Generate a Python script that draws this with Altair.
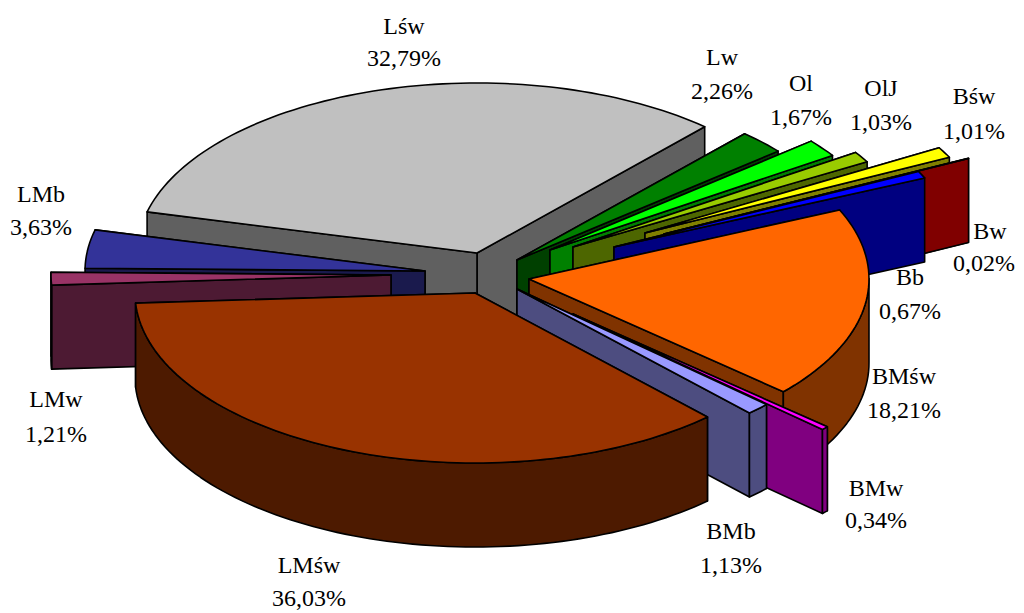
import math
import altair as alt
import pandas as pd

# --- values, clockwise from the back of the pie
names = ["Lśw", "Lw", "Ol", "OlJ", "Bśw", "Bw", "Bb", "BMśw", "BMw", "BMb", "LMśw", "LMw", "LMb"]
shares = [32.79, 2.26, 1.67, 1.03, 1.01, 0.02, 0.67, 18.21, 0.34, 1.13, 36.03, 1.21, 3.63]
share_labels = ["32,79%", "2,26%", "1,67%", "1,03%", "1,01%", "0,02%", "0,67%", "18,21%", "0,34%", "1,13%", "36,03%", "1,21%", "3,63%"]

# --- styles
top_colors = ["#C0C0C0", "#008000", "#00FF00", "#99CC00", "#FFFF00", "#FF0000", "#0000FF",
              "#FF6600", "#FF00FF", "#9999FF", "#993300", "#993366", "#333399"]
wall_colors = ["#606060", "#004000", "#008000", "#4D6600", "#808000", "#800000", "#000080",
               "#803300", "#800080", "#4D4D80", "#4D1A00", "#4D1A33", "#1A1A4D"]

# --- layout: how far each slice is pulled out of the pie (px), and label places
pull_x = [-12, 28, 61, 84, 156, 175, 125, 40, 84, 28, -14, -98, -64]
pull_y = [-20, -13, -23, -26, -40, -39, -26, 6, 41, 16, 20, 2, -2]
name_x = [404, 722, 801, 881, 974, 990, 910, 904, 876, 731, 309, 56, 41]
pct_x = [404, 722, 801, 881, 974, 984, 910, 904, 876, 731, 309, 56, 41]
name_y = [27, 58, 84, 89, 97, 232, 278, 377, 489, 532, 566, 400, 195]
pct_y = [59, 92, 118, 123, 132, 264, 312, 411, 521, 566, 599, 435, 228]

CX, CY = 489, 273      # pie centre in the picture
RX, RY = 340, 170      # ellipse radii of the tilted disc
DEPTH = 84
START = 166.0          # angle of the first slice's leading edge, degrees
draw_order = ["Lśw", "Lw", "Ol", "OlJ", "Bśw", "Bw", "Bb", "LMb", "LMw", "BMśw", "BMw", "BMb", "LMśw"]
PAD = 8                # page margin


def rim(ax, ay, t):
    r = math.radians(t)
    return (ax + RX * math.cos(r), ay - RY * math.sin(r))


def poly(points, fill, rank):
    ring = [[x - PAD, y - PAD] for x, y in points]
    ring.append(ring[0])
    return {"type": "Feature", "properties": {"fill": fill, "rank": rank},
            "geometry": {"type": "Polygon", "coordinates": [ring]}}


angles = {}
t = START
for n, s in zip(names, shares):
    angles[n] = (t, t - s * 3.6)
    t -= s * 3.6

features = []
for name in draw_order:
    i = names.index(name)
    t1, t2 = angles[name]
    ax, ay = CX + pull_x[i], CY + pull_y[i]
    steps = max(2, int((t1 - t2) / 1.5) + 1)
    arc_t = [t1 + (t2 - t1) * k / steps for k in range(steps + 1)]
    arc = [rim(ax, ay, a) for a in arc_t]
    apex = (ax, ay)
    fill, wall = top_colors[i], wall_colors[i]

    def down(p):
        return (p[0], p[1] + DEPTH)

    # the two cut faces, upper edge first
    for edge in sorted([arc[0], arc[-1]], key=lambda p: p[1]):
        features.append(poly([apex, edge, down(edge), down(apex)], wall, len(features)))
    # the outer wall: only the part of the rim facing the viewer
    front = [a for a in arc_t if math.sin(math.radians(a)) <= 0.02]
    if len(front) >= 2:
        f = [rim(ax, ay, a) for a in front]
        features.append(poly(f + [down(p) for p in reversed(f)], wall, len(features)))
    # the top
    features.append(poly([apex] + arc, fill, len(features)))

shapes = (
    alt.Chart(alt.Data(values=features))
    .mark_geoshape(stroke="black", strokeWidth=1.6, strokeJoin="round")
    .encode(fill=alt.Fill("properties.fill:N", scale=None))
    .project(type="identity", scale=1, translate=[0, 0])
)

labels = pd.DataFrame({
    "name": names, "pct": share_labels,
    "xn": [v - PAD for v in name_x],
    "xp": [v - PAD for v in pct_x],
    "yn": [v - PAD for v in name_y],
    "yp": [v - PAD for v in pct_y],
})
W, H = 1008, 605
sx = alt.Scale(domain=[0, W], range=[0, W])
sy = alt.Scale(domain=[0, H], range=[0, H])


def text_layer(field, xfield, yfield):
    return (
        alt.Chart(labels)
        .mark_text(font="Liberation Serif", fontSize=24, color="black", align="center", baseline="middle")
        .encode(x=alt.X(f"{xfield}:Q", scale=sx, axis=None),
                y=alt.Y(f"{yfield}:Q", scale=sy, axis=None),
                text=f"{field}:N")
    )


chart = (
    alt.layer(shapes, text_layer("name", "xn", "yn"), text_layer("pct", "xp", "yp"))
    .properties(width=W, height=H, padding=0, autosize=alt.AutoSizeParams(type="none"))
    .configure_view(stroke=None)
)
chart.save("out.html", embed_options={"renderer": "svg", "actions": False})
